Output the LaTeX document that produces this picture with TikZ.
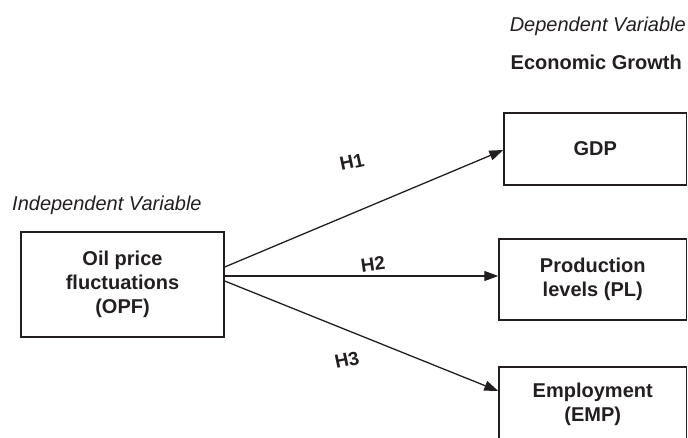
\documentclass[tikz,border=0pt]{standalone}
\usepackage{fontspec}
\setmainfont{Liberation Sans}
\usetikzlibrary{arrows.meta}
\definecolor{ink}{HTML}{231F20}
\begin{document}
\begin{tikzpicture}[x=1pt,y=-1pt,
  box/.style={draw=ink,line width=1.4pt,text=ink,align=center,inner sep=0pt,
    font=\fontsize{20}{24}\selectfont\bfseries},
  arr/.style={draw=ink,line width=1.3pt,-{Triangle[length=14pt,width=10pt]}},
  hlab/.style={text=ink,font=\fontsize{19}{22}\selectfont\bfseries,inner sep=0pt},
  head/.style={text=ink,inner sep=0pt,font=\fontsize{20}{24}\selectfont}]
\useasboundingbox (0,0) rectangle (688,437);
\clip (0,0) rectangle (688,437);
% headings
\node[head,anchor=base east,font=\fontsize{20}{24}\selectfont\itshape] (dep) at (686,31) {Dependent Variable};
\node[head,anchor=base east,font=\fontsize{20}{24}\selectfont\bfseries] (eco) at (682,69) {Economic Growth};
\node[head,anchor=base west,font=\fontsize{20}{24}\selectfont\itshape] (ind) at (12,210) {Independent Variable};
% boxes
\node[box,minimum width=203pt,minimum height=105pt] (opf) at (122.5,284.5) {Oil price\\fluctuations\\(OPF)};
\node[box,minimum width=182.5pt,minimum height=72pt] (gdp) at (595.25,149) {GDP};
\node[box,minimum width=187.5pt,minimum height=81pt] (pl) at (592.75,279.5) {Production\\levels (PL)};
\node[box,minimum width=187.5pt,minimum height=75pt] (emp) at (592.75,404.5) {Employment\\(EMP)};
% arrows
\draw[arr] ([yshift=17.5pt]opf.east) -- ([yshift=-1pt]gdp.west);
\draw[arr] ([yshift=8.5pt]opf.east) -- ([yshift=3.5pt]pl.west);
\draw[arr] ([yshift=3.5pt]opf.east) -- ([yshift=13.5pt]emp.west);
% labels
\node[hlab,rotate=12] (h1) at (352,162) {H1};
\node[hlab,rotate=8] (h2) at (373,264) {H2};
\node[hlab,rotate=12] (h3) at (347,360) {H3};
\end{tikzpicture}
\end{document}
